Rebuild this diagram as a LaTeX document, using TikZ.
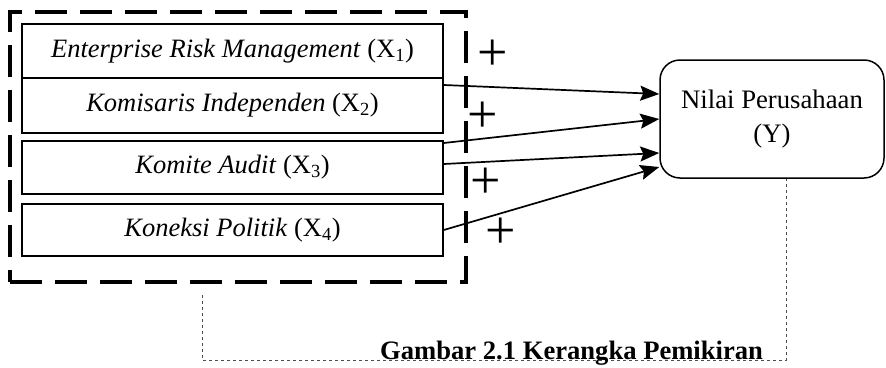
\documentclass[tikz,border=0pt]{standalone}
\usepackage{fontspec}
\setmainfont{Liberation Serif}
\usetikzlibrary{arrows.meta}

\begin{document}
\begin{tikzpicture}[x=1pt,y=-1pt,
    var/.style={draw,line width=1.5pt,minimum width=421pt,inner sep=0pt,
      font=\fontsize{26.5}{30}\selectfont},
    plus/.style={inner sep=0pt,font=\fontsize{54}{54}\selectfont},
    link/.style={line width=1.7pt,-{Stealth[length=19pt,width=15pt,inset=3pt]}}]
  \useasboundingbox (0,0) rectangle (886,367);

  %%% variabel independen
  \node[var,minimum height=54pt] (erm) at (232.5,51) {\textit{Enterprise Risk Management} (X\textsubscript{1})};
  \node[var,minimum height=55pt] (ki) at (232.5,105.5) {\textit{Komisaris Independen} (X\textsubscript{2})};
  \node[var,minimum height=53pt] (ka) at (232.5,167.5) {\textit{Komite Audit} (X\textsubscript{3})};
  \node[var,minimum height=52pt] (kp) at (232.5,230) {\textit{Koneksi Politik} (X\textsubscript{4})};
  \node[draw,line width=3.3pt,dash pattern=on 32pt off 13pt,minimum width=456pt,
    minimum height=270pt,inner sep=0pt] (grp) at (238,147) {};

  %%% variabel dependen
  \node[draw,line width=1.5pt,rounded corners=20pt,minimum width=224pt,minimum height=118pt,
    align=center,font=\fontsize{26.7}{34}\selectfont] (nilai) at (772,119) {Nilai Perusahaan\\(Y)};

  %%% panah
  \draw[link] ([yshift=20.5pt]ki.east) -- ([yshift=25pt]nilai.west);
  \draw[link] ([yshift=24.5pt]ka.east) -- (nilai.west);
  \draw[link] ([yshift=3.5pt]ka.east) -- ([yshift=-34pt]nilai.west);
  \draw[link] (kp.east) -- ([yshift=-48pt]nilai.west);
  \node[plus] (p1) at (493,55) {+};
  \node[plus] (p2) at (483,117) {+};
  \node[plus] (p3) at (486,183) {+};
  \node[plus] (p4) at (501,233) {+};

  %%% keterangan
  \coordinate (c1) at (202,295);
  \coordinate (c2) at (786,360);
  \draw[black!70,line width=0.9pt,dashed] (c1) |- (c2) -- (c2 |- nilai.south);
  \node[anchor=base west,inner sep=0pt,font=\fontsize{26.6}{30}\selectfont\bfseries] (cap) at (380,359) {Gambar 2.1 Kerangka Pemikiran};
\end{tikzpicture}
\end{document}
